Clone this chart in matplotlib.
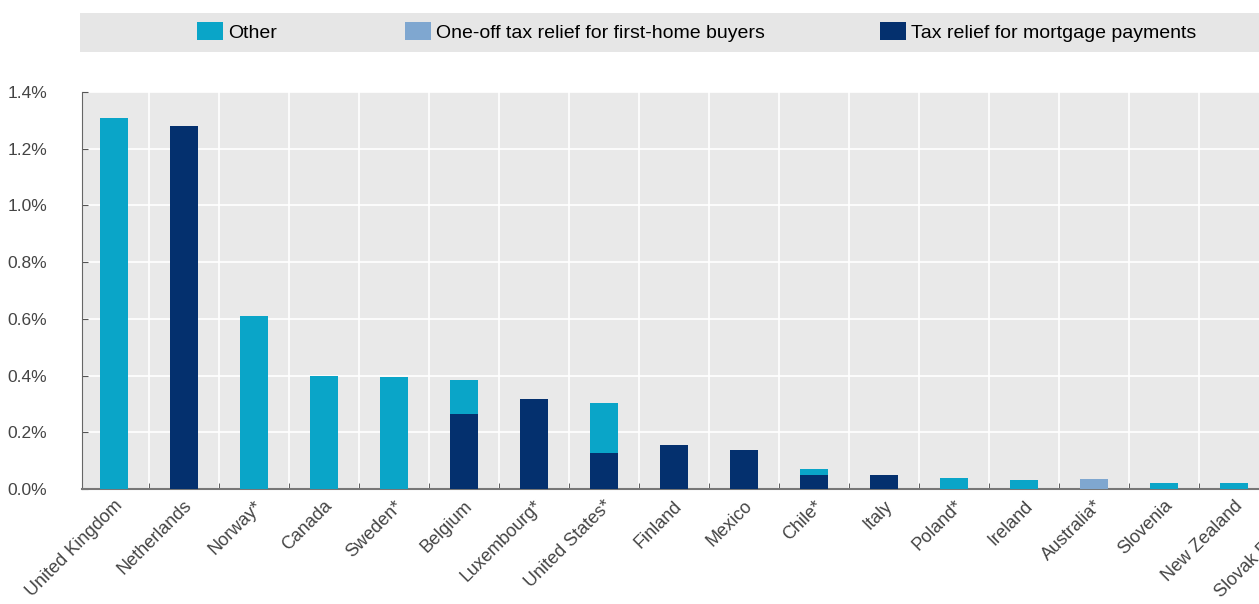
import matplotlib
matplotlib.use("Agg")
import matplotlib.pyplot as plt
from matplotlib.patches import Rectangle, Patch
import numpy as np

countries = ["United Kingdom", "Netherlands", "Norway*", "Canada", "Sweden*", "Belgium",
             "Luxembourg*", "United States*", "Finland", "Mexico", "Chile*", "Italy",
             "Poland*", "Ireland", "Australia*", "Slovenia", "New Zealand", "Slovak Republic"]
mortgage = [0.0, 1.28, 0.0, 0.0, 0.0, 0.265, 0.317, 0.127, 0.155, 0.138, 0.05, 0.048,
            0.0, 0.0, 0.0, 0.0, 0.0, 0.0]
oneoff = [0.0, 0.0, 0.0, 0.0, 0.0, 0.0, 0.0, 0.0, 0.0, 0.0, 0.0, 0.0,
          0.0, 0.0, 0.037, 0.0, 0.0, 0.0]
other = [1.31, 0.0, 0.61, 0.40, 0.395, 0.12, 0.0, 0.176, 0.0, 0.0, 0.02, 0.0,
         0.04, 0.033, 0.0, 0.022, 0.022, 0.02]
series_names = ["Other", "One-off tax relief for first-home buyers", "Tax relief for mortgage payments"]
yticks = [0.0, 0.2, 0.4, 0.6, 0.8, 1.0, 1.2, 1.4]

c_other = "#0aa5c8"
c_oneoff = "#7fa7d0"
c_mort = "#04306e"

plt.rcParams["font.family"] = ["Liberation Sans", "DejaVu Sans"]

W, H = 1259, 604
fig = plt.figure(figsize=(W / 100, H / 100), dpi=100)

# legend band
fig.patches.append(Rectangle((80 / W, 1 - 52 / H), 1 - 80 / W, 39 / H,
                             transform=fig.transFigure, facecolor="#e6e6e6",
                             edgecolor="none", zorder=0))

ax = fig.add_axes([82 / W, 1 - 489 / H, 1257 / W, (489 - 92) / H])
ax.set_facecolor("#e9e9e9")

x = np.arange(len(countries))
m = np.array(mortgage)
o1 = np.array(oneoff)
ot = np.array(other)
w = 0.4
ax.bar(x, m, width=w, color=c_mort, zorder=3)
ax.bar(x, o1, width=w, bottom=m, color=c_oneoff, zorder=3)
ax.bar(x, ot, width=w, bottom=m + o1, color=c_other, zorder=3)

ax.set_xlim(-0.45, 17.5)
ax.set_ylim(0, 1.4)
ax.set_yticks(yticks)
ax.set_yticklabels([f"{v:.1f}%" for v in yticks], fontsize=12.5, color="#444444")
ax.tick_params(axis="y", length=4, direction="in", color="#555555", pad=25)

ax.set_xticks(x)
ax.set_xticklabels(countries, rotation=45, ha="right", rotation_mode="anchor",
                   fontsize=13, color="#444444")
ax.tick_params(axis="x", length=0, pad=6)

bounds = np.arange(0.5, len(countries), 1.0)
ax.set_xticks(bounds, minor=True)
ax.tick_params(axis="x", which="minor", length=4, direction="in", color="#444444")
ax.grid(True, axis="y", color="white", linewidth=1.2, zorder=1)
ax.grid(True, axis="x", which="minor", color="white", linewidth=1.2, zorder=1)
ax.grid(False, axis="x", which="major")
ax.set_axisbelow(True)
for s in ["top", "right"]:
    ax.spines[s].set_visible(False)
ax.spines["left"].set_color("#666666")
ax.spines["bottom"].set_color("#777777")
ax.spines["bottom"].set_linewidth(1.5)

# legend entries
cols = [c_other, c_oneoff, c_mort]
xpos = [197 / W, 405 / W, 880 / W]
for name, col, xp in zip(series_names, cols, xpos):
    fig.legend(handles=[Patch(facecolor=col, edgecolor="none", label=name)],
               loc="center left", bbox_to_anchor=(xp, 1 - 32 / H), frameon=False,
               fontsize=14, handlelength=1.35, handleheight=1.0, handletextpad=0.25,
               borderpad=0, borderaxespad=0)

fig.savefig("out.png", dpi=100)
